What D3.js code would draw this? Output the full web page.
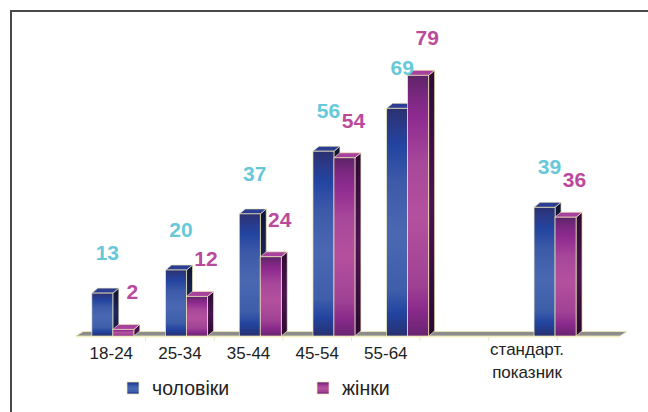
<!DOCTYPE html>
<html><head><meta charset="utf-8">
<script src="https://cdn.jsdelivr.net/npm/d3@7"></script>
<style>html,body{margin:0;padding:0;background:#fff;}svg{display:block;}</style>
</head><body>
<script>
const categories = ["18-24","25-34","35-44","45-54","55-64","","стандарт."];
const men = [13,20,37,56,69,null,39];
const women = [2,12,24,54,79,null,36];
const axisLabels = [["18-24"],["25-34"],["35-44"],["45-54"],["55-64"],[""],["стандарт.","показник"],[""]];
const seriesNames = ["чоловіки","жінки"];

const W=648,H=412;
const svg=d3.select("body").append("svg").attr("width",W).attr("height",H);
const defs=svg.append("defs");
function grad(id,stops){
  const g=defs.append("linearGradient").attr("id",id).attr("x1",0).attr("y1",0).attr("x2",0).attr("y2",1);
  stops.forEach(s=>g.append("stop").attr("offset",s[0]).attr("stop-color",s[1]));
}
grad("mF",[[0,"#2b3170"],[0.08,"#2a3a8a"],[0.16,"#2244a0"],[0.32,"#3d5aa8"],[0.55,"#4a68b2"],[0.8,"#3e5eaa"],[0.9,"#2244a0"],[1,"#283070"]]);
grad("wF",[[0,"#5e2468"],[0.08,"#7a2880"],[0.16,"#8e2a90"],[0.34,"#a8489a"],[0.55,"#b4509e"],[0.8,"#a04294"],[0.9,"#8a2a8c"],[1,"#682470"]]);
grad("mS",[[0,"#0e1434"],[0.5,"#1e2860"],[1,"#101638"]]);
grad("wS",[[0,"#2e0a34"],[0.5,"#4a1450"],[1,"#2a0830"]]);

// frame
svg.append("rect").attr("x",11).attr("y",11).attr("width",700).attr("height",500)
  .attr("fill","none").attr("stroke","#4a4a4a").attr("stroke-width",2);

const x=d3.scaleBand().domain(categories).range([76,76+7*73.7]).padding(0);
const xl=d3.scaleBand().domain(d3.range(axisLabels.length)).range([77,626]).padding(0);
const y=d3.scaleLinear().domain([0,80]).range([336,72]);
const bw=21, dx=6, dy=-5;
const edge="#efe9b8";

// floor
const fy=y(0);
svg.append("polygon")
  .attr("points",[[76,fy],[620,fy],[627,fy-4.5],[83,fy-4.5]].map(p=>p.join(",")).join(" "))
  .attr("fill","#8c8c8c").attr("stroke",edge).attr("stroke-width",0.8);
svg.append("line").attr("x1",76).attr("x2",620).attr("y1",fy+0.8).attr("y2",fy+0.8).attr("stroke",edge).attr("stroke-width",1);
svg.selectAll(".tk").data(d3.range(1,axisLabels.length)).enter().append("line")
  .attr("x1",d=>xl(d)).attr("x2",d=>xl(d)).attr("y1",fy+1).attr("y2",fy+5)
  .attr("stroke",edge).attr("stroke-width",1);

function bar(x0,v,front,side,top){
  if(v==null) return;
  const yt=y(v), yb=y(0);
  const g=svg.append("g");
  g.append("polygon").attr("points",[[x0+bw,yb],[x0+bw+dx,yb+dy],[x0+bw+dx,yt+dy],[x0+bw,yt]].map(p=>p.join(",")).join(" "))
    .attr("fill",`url(#${side})`).attr("stroke",edge).attr("stroke-width",0.7);
  g.append("polygon").attr("points",[[x0,yt],[x0+bw,yt],[x0+bw+dx,yt+dy],[x0+dx,yt+dy]].map(p=>p.join(",")).join(" "))
    .attr("fill",top).attr("stroke",edge).attr("stroke-width",0.7);
  g.append("rect").attr("x",x0).attr("y",yt).attr("width",bw).attr("height",yb-yt)
    .attr("fill",`url(#${front})`).attr("stroke",edge).attr("stroke-width",0.7);
}
categories.forEach((c,i)=>{
  const cx=x(c)+x.bandwidth()/2;
  bar(cx-bw,men[i],"mF","mS","#2c3e94");
  bar(cx,women[i],"wF","wS","#a8409e");
});

// value labels
const vf="bold 21px 'Liberation Sans', Arial, sans-serif";
categories.forEach((c,i)=>{
  const cx=x(c)+x.bandwidth()/2;
  if(men[i]!=null) svg.append("text").attr("x",cx-bw/2+5).attr("y",y(men[i])-33)
    .attr("text-anchor","middle").style("font",vf).attr("fill","#67c8da").text(men[i]);
  if(women[i]!=null) svg.append("text").attr("x",cx+bw/2+9).attr("y",y(women[i])-30)
    .attr("text-anchor","middle").style("font",vf).attr("fill","#bc4a9c").text(women[i]);
});

// axis labels
const af="17px 'Liberation Sans', Arial, sans-serif";
axisLabels.forEach((lines,i)=>{
  const cx=xl(i)+xl.bandwidth()/2 + (lines.length>1?4:0);
  lines.forEach((t,j)=>{
    svg.append("text").attr("x",cx).attr("y",(lines.length>1?355:359)+j*23)
      .attr("text-anchor","middle").style("font",af).attr("fill","#222").text(t);
  });
});

// legend
const lgf="19.5px 'Liberation Sans', Arial, sans-serif";
const lg=[{n:seriesNames[0],f:"mF",x:127},{n:seriesNames[1],f:"wF",x:317}];
lg.forEach(d=>{
  svg.append("rect").attr("x",d.x).attr("y",382).attr("width",12).attr("height",12)
    .attr("fill",`url(#${d.f})`).attr("stroke",edge).attr("stroke-width",0.7);
  svg.append("text").attr("x",d.x+25).attr("y",395).style("font",lgf).attr("fill","#222").text(d.n);
});
</script>
</body></html>
